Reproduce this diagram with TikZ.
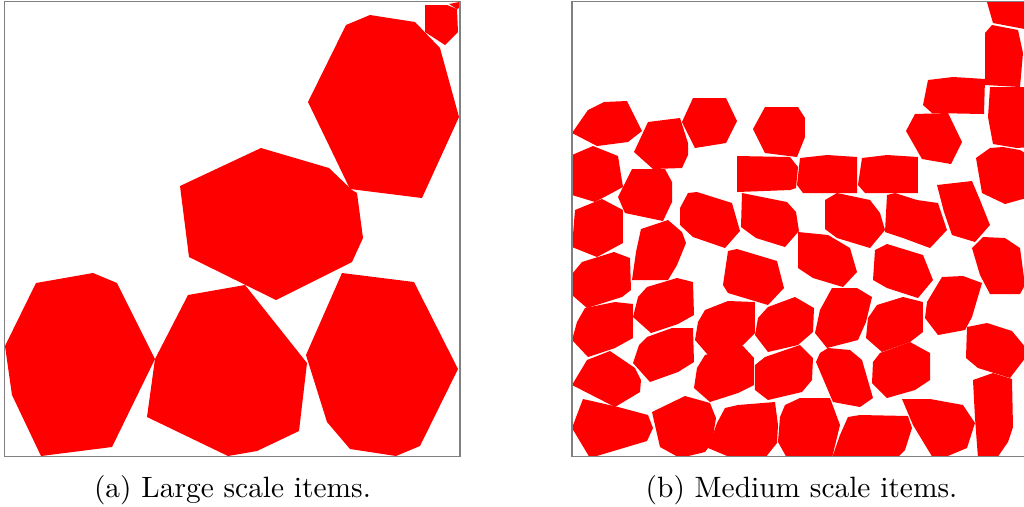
\documentclass[tikz,border=0pt]{standalone}
\usepackage{xcolor}
\usepackage{tikz}
\definecolor{itemRed}{RGB}{255,0,0}
\definecolor{frameGray}{RGB}{128,128,128}

\begin{document}
\begin{tikzpicture}[
  x=0.34pt,
  y=-0.34pt,
  item/.style={fill=itemRed},
  frame/.style={draw=frameGray, line width=0.45pt},
  caption/.style={anchor=base, inner sep=0pt, font=\normalsize}
]
\useasboundingbox (0,0) rectangle (1024,506);

% (a) large scale items
\fill[item] (36,283) -- (93,273) -- (117,283) -- (155,359) -- (112,447) -- (41,456) -- (12,395) -- (5,346) -- cycle;
\fill[item] (188,295) -- (245,285) -- (307,363) -- (299,431) -- (257,451) -- (228,456) -- (147,417) -- (155,359) -- cycle;
\fill[item] (342,273) -- (414,282) -- (458,369) -- (420,446) -- (396,456) -- (350,449) -- (327,422) -- (306,355) -- cycle;
\fill[item] (180,186) -- (261,148) -- (329,168) -- (352,190) -- (357,193) -- (363,238) -- (352,262) -- (276,300) -- (189,257) -- cycle;
\fill[item] (346,25) -- (370,15) -- (415,22) -- (440,48) -- (459,117) -- (422,198) -- (350,189) -- (308,102) -- cycle;
\fill[item] (425,5) -- (447,5) -- (457,9) -- (458,32) -- (445,45) -- (425,32) -- cycle;
\fill[item] (449,4) -- (459,2) -- (459,8) -- (457,9) -- cycle;
\draw[frame] (4.5,1.3) rectangle (460,456.5);

% (b) medium scale items
\begin{scope}
\clip (572,1.3) rectangle (1024,456.5);
\fill[item] (572,133) -- (588,110) -- (604,102) -- (627,101) -- (642,131) -- (628,142) -- (597,146) -- cycle;
\fill[item] (648,122) -- (680,118) -- (688,143) -- (688,155) -- (682,168) -- (653,169) -- (634,152) -- cycle;
\fill[item] (693,98) -- (726,98) -- (737,121) -- (726,143) -- (695,148) -- (682,122) -- cycle;
\fill[item] (765,107) -- (798,107) -- (805,118) -- (805,137) -- (797,157) -- (765,153) -- (753,129) -- cycle;
\fill[item] (572,155) -- (593,146) -- (608,152) -- (618,156) -- (623,187) -- (595,202) -- (572,195) -- cycle;
\fill[item] (632,169) -- (665,169) -- (672,182) -- (672,202) -- (663,221) -- (625,213) -- (618,197) -- cycle;
\fill[item] (575,210) -- (602,199) -- (623,210) -- (623,243) -- (597,257) -- (572,247) -- cycle;
\fill[item] (688,193) -- (697,192) -- (732,203) -- (740,231) -- (725,248) -- (693,237) -- (680,225) -- (680,208) -- cycle;
\fill[item] (737,156) -- (790,157) -- (798,167) -- (796,188) -- (790,190) -- (737,192) -- cycle;
\fill[item] (742,193) -- (787,202) -- (796,212) -- (799,231) -- (785,247) -- (756,238) -- (741,227) -- cycle;
\fill[item] (985,-5) -- (1030,-5) -- (1030,30) -- (993,23) -- cycle;
\fill[item] (992,25) -- (1018,30) -- (1023,53) -- (1020,87) -- (985,85) -- (985,33) -- cycle;
\fill[item] (928,80) -- (953,77) -- (985,79) -- (984,114) -- (932,113) -- (923,105) -- cycle;
\fill[item] (990,87) -- (1030,87) -- (1030,147) -- (1017,148) -- (993,144) -- (988,117) -- cycle;
\fill[item] (915,114) -- (948,113) -- (962,142) -- (951,164) -- (922,159) -- (906,131) -- cycle;
\fill[item] (976,158) -- (990,148) -- (1003,147) -- (1020,150) -- (1030,156) -- (1030,197) -- (1005,204) -- (982,193) -- cycle;
\fill[item] (800,158) -- (827,155) -- (857,157) -- (857,193) -- (803,193) -- (797,185) -- cycle;
\fill[item] (862,158) -- (887,155) -- (918,157) -- (918,193) -- (865,193) -- (858,185) -- cycle;
\fill[item] (825,200) -- (837,193) -- (870,200) -- (880,213) -- (885,230) -- (870,248) -- (837,238) -- (825,229) -- cycle;
\fill[item] (887,195) -- (895,193) -- (917,200) -- (938,203) -- (947,230) -- (930,248) -- (903,238) -- (885,232) -- cycle;
\fill[item] (937,185) -- (972,181) -- (980,200) -- (990,225) -- (975,242) -- (952,235) -- (944,212) -- cycle;
\fill[item] (641,229) -- (668,220) -- (682,232) -- (686,243) -- (677,265) -- (668,280) -- (632,280) -- (636,252) -- cycle;
\fill[item] (728,251) -- (737,249) -- (777,261) -- (784,288) -- (768,305) -- (728,293) -- (723,285) -- cycle;
\fill[item] (798,232) -- (828,235) -- (850,248) -- (857,272) -- (843,287) -- (813,278) -- (798,268) -- cycle;
\fill[item] (875,250) -- (887,244) -- (923,255) -- (933,280) -- (918,298) -- (887,288) -- (873,280) -- cycle;
\fill[item] (972,248) -- (983,237) -- (1005,238) -- (1020,248) -- (1025,285) -- (1020,294) -- (990,294) -- (980,275) -- cycle;
\fill[item] (582,262) -- (614,252) -- (630,258) -- (631,290) -- (622,297) -- (587,308) -- (572,295) -- (572,274) -- cycle;
\fill[item] (647,287) -- (677,278) -- (693,282) -- (694,315) -- (678,324) -- (651,333) -- (633,317) -- (638,297) -- cycle;
\fill[item] (705,310) -- (728,301) -- (755,302) -- (755,333) -- (743,345) -- (708,355) -- (695,340) -- (698,322) -- cycle;
\fill[item] (768,307) -- (795,297) -- (814,308) -- (813,332) -- (798,345) -- (768,352) -- (755,335) -- (758,318) -- cycle;
\fill[item] (832,288) -- (857,288) -- (872,297) -- (866,322) -- (858,340) -- (827,348) -- (815,333) -- (820,310) -- cycle;
\fill[item] (877,305) -- (903,297) -- (923,302) -- (923,332) -- (910,342) -- (882,352) -- (866,338) -- (868,318) -- cycle;
\fill[item] (942,277) -- (963,276) -- (982,283) -- (972,317) -- (965,330) -- (938,335) -- (925,318) -- (927,302) -- cycle;
\fill[item] (967,327) -- (987,323) -- (1012,331) -- (1026,348) -- (1026,357) -- (1010,378) -- (978,368) -- (966,358) -- cycle;
\fill[item] (585,308) -- (615,302) -- (633,304) -- (633,338) -- (615,348) -- (588,357) -- (572,340) -- (577,322) -- cycle;
\fill[item] (647,337) -- (672,328) -- (693,328) -- (694,362) -- (678,372) -- (650,382) -- (633,363) -- (639,345) -- cycle;
\fill[item] (705,355) -- (742,345) -- (754,358) -- (754,385) -- (738,393) -- (710,402) -- (694,388) -- (697,368) -- cycle;
\fill[item] (765,357) -- (800,345) -- (813,358) -- (812,380) -- (802,392) -- (768,400) -- (755,390) -- (755,365) -- cycle;
\fill[item] (820,353) -- (828,348) -- (850,350) -- (862,360) -- (873,398) -- (860,407) -- (833,402) -- (816,362) -- cycle;
\fill[item] (880,353) -- (910,342) -- (930,353) -- (930,380) -- (915,390) -- (887,398) -- (872,383) -- (873,362) -- cycle;
\fill[item] (973,380) -- (993,373) -- (1012,379) -- (1013,427) -- (1008,442) -- (997,458) -- (978,458) -- (975,418) -- cycle;
\fill[item] (587,360) -- (610,351) -- (635,368) -- (641,380) -- (640,392) -- (615,407) -- (572,385) -- cycle;
\fill[item] (583,399) -- (618,407) -- (648,415) -- (653,428) -- (647,441) -- (590,458) -- (572,428) -- (578,412) -- cycle;
\fill[item] (652,412) -- (685,396) -- (710,403) -- (716,418) -- (712,443) -- (705,452) -- (680,458) -- (660,447) -- cycle;
\fill[item] (725,408) -- (738,405) -- (775,402) -- (778,425) -- (777,443) -- (765,458) -- (732,458) -- (708,448) -- (717,423) -- cycle;
\fill[item] (785,405) -- (800,398) -- (830,398) -- (840,425) -- (832,458) -- (787,458) -- (778,442) -- (780,417) -- cycle;
\fill[item] (848,417) -- (860,415) -- (908,416) -- (912,428) -- (905,450) -- (897,458) -- (832,458) -- (840,435) -- cycle;
\fill[item] (902,399) -- (930,399) -- (963,405) -- (975,423) -- (967,448) -- (943,458) -- (933,458) -- (913,425) -- cycle;
\end{scope}
\draw[frame] (572,1.3) rectangle (1027,456.5);

\node[caption] (capA) at (232.5,497) {(a) Large scale items.};
\node[caption] (capB) at (801.5,497) {(b) Medium scale items.};
\end{tikzpicture}
\end{document}
